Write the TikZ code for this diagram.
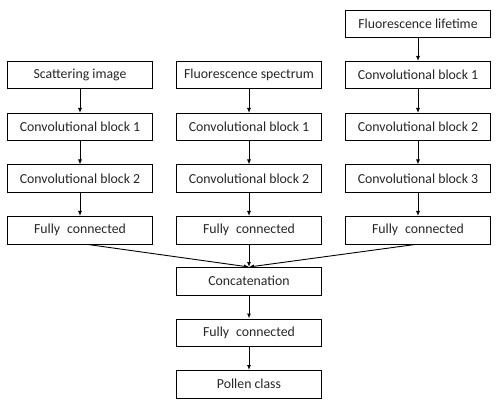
\documentclass[tikz,border=0pt]{standalone}
\usepackage{fontspec}
\setmainfont{Carlito}
\usetikzlibrary{arrows.meta}
\begin{document}
\begin{tikzpicture}[x=1pt,y=-1pt,
  blk/.style={draw=black, line width=1pt, minimum width=145pt, minimum height=27.5pt, inner sep=0pt, font=\fontsize{13.8}{15}\selectfont, text=black!85, anchor=north west},
  arr/.style={-{Latex[length=5pt,width=4pt]}, line width=0.9pt}]
\useasboundingbox (0,0) rectangle (500,403);
% left column
\node[blk] (s0) at (7,61) {Scattering image};
\node[blk] (s1) at (7,113) {Convolutional block 1};
\node[blk] (s2) at (7,164.5) {Convolutional block 2};
\node[blk] (s3) at (7,216) {Fully\enspace connected};
% middle column
\node[blk] (f0) at (176,61) {Fluorescence spectrum};
\node[blk] (f1) at (176,113) {Convolutional block 1};
\node[blk] (f2) at (176,164.5) {Convolutional block 2};
\node[blk] (f3) at (176,216) {Fully\enspace connected};
\node[blk] (c) at (176,267) {Concatenation};
\node[blk] (fc) at (176,318.5) {Fully\enspace connected};
\node[blk] (p) at (176,370) {Pollen class};
% right column
\node[blk] (l0) at (345,10) {Fluorescence lifetime};
\node[blk] (l1) at (345,61) {Convolutional block 1};
\node[blk] (l2) at (345,113) {Convolutional block 2};
\node[blk] (l3) at (345,164.5) {Convolutional block 3};
\node[blk] (l4) at (345,216) {Fully\enspace connected};
% arrows
\draw[arr] (s0) -- (s1);
\draw[arr] (s1) -- (s2);
\draw[arr] (s2) -- (s3);
\draw[arr] (f0) -- (f1);
\draw[arr] (f1) -- (f2);
\draw[arr] (f2) -- (f3);
\draw[arr] (l0) -- (l1);
\draw[arr] (l1) -- (l2);
\draw[arr] (l2) -- (l3);
\draw[arr] (l3) -- (l4);
\draw[arr] ([xshift=8pt]s3.south) -- (c.north);
\draw[arr] (f3) -- (c);
\draw[arr] ([xshift=-3pt]l4.south) -- (c.north);
\draw[arr] (c) -- (fc);
\draw[arr] (fc) -- (p);
\end{tikzpicture}
\end{document}
